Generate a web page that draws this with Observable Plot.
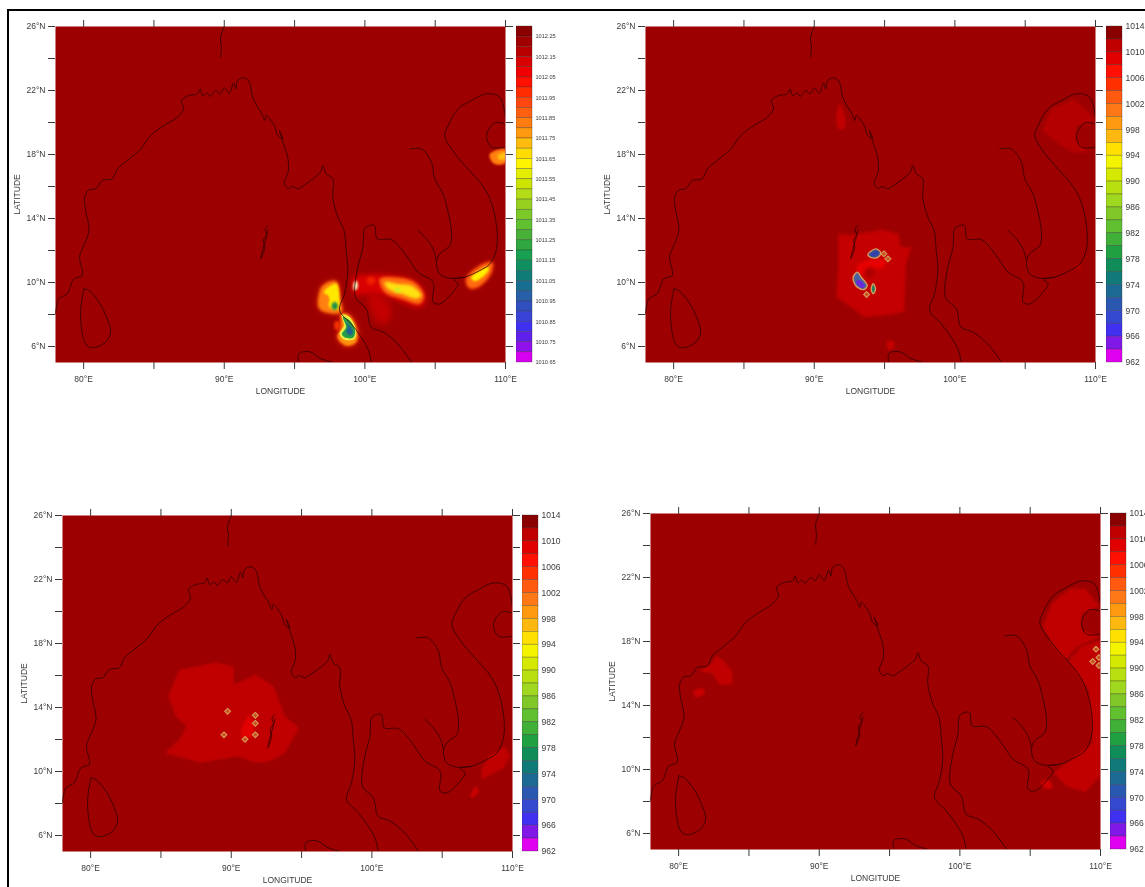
<!DOCTYPE html>
<html><head><meta charset="utf-8">
<script src="https://cdn.jsdelivr.net/npm/d3@7"></script>
<script src="https://cdn.jsdelivr.net/npm/@observablehq/plot@0.6"></script>
<style>
html,body{margin:0;padding:0;background:#fff;}
#page{position:relative;width:1145px;height:887px;overflow:hidden;background:#fff;}
#border{position:absolute;left:7px;top:9px;right:-5px;bottom:-5px;border-top:2px solid #000;border-left:2px solid #000;}
#page svg{position:absolute;max-width:none;}
</style></head><body><div id="page"><div id="border"></div></div>
<script>
// ---------- Map geometry (lon, lat) ----------
const coastWest = [[78,8.04],[78.24,8.98],[78.83,9.29],[79.31,10.23],[79.9,10.44],[79.71,11.58],[79.9,12.1],[80.38,13.25],[80.14,14.5],[80.07,15.33],[80.38,15.79],[80.85,15.85],[81.33,16.38],[82.04,16.48],[82.4,17.1],[83.11,17.63],[84.06,18.35],[84.77,19.19],[85.72,19.81],[86.67,20.33],[87.1,20.85],[86.96,21.38],[87.5,21.69],[88.1,21.79],[88.29,22.1],[88.46,21.69],[88.81,21.83],[89,21.63],[89.4,22],[89.71,21.79],[90,22.17],[90.36,21.83],[90.66,22.46],[90.83,22.1],[90.95,22.63],[91.42,22.79],[91.78,22.52],[92.02,21.58],[92.37,20.96],[92.61,20.65],[92.9,20.13],[92.97,20.44],[93.56,19.81],[93.8,19.19],[94.16,18.98],[93.92,19.5],[94.2,18.7],[94.51,17.83],[94.56,17],[94.27,16.17],[94.6,15.85],[94.75,16],[95.1,15.9],[95.23,15.85],[95.7,16.1],[96.3,16.48],[96.84,16.9],[97.01,17.31],[97.25,16.79],[97.72,16.48],[97.72,15.33],[98.08,14.08],[98.3,13.7],[98.55,13.15],[98.67,12],[98.79,10.75],[98.55,9.29],[98.2,8.25],[99.03,7.42],[99.74,6.58],[100.26,5.75],[100.45,5]];
const coastEast = [[103.34,5],[102.3,6.19],[101.26,6.92],[100.45,7.2],[100.1,8.35],[99.38,8.98],[99.27,9.5],[99.5,10.96],[99.86,12.2],[99.98,13.35],[100.3,13.55],[100.69,13.56],[100.88,12.73],[101.88,12.68],[102.59,12.1],[103.19,11.37],[103.78,10.64],[104.85,10.02],[104.85,8.77],[105.32,8.66],[106.16,9.29],[106.63,9.91],[106.3,10.2],[107.1,10.33],[108.18,10.75],[108.89,11.16],[109.36,12.1],[109.36,13.56],[108.89,15.23],[108.18,16.27],[107.11,17.31],[106.16,18.35],[105.68,19.18],[105.92,19.81],[106.63,20.85],[107.58,21.37],[108.65,21.79],[109.6,21.58],[110,20.23]];
const riverMekong = [[103.19,18.35],[104.02,18.35],[104.73,17.52],[104.97,16.48],[105.56,15.54],[105.92,14.39],[106.16,13.14],[106.04,12.31],[105.32,11.79],[105.09,11.27],[105.32,10.54],[106.04,10.27],[107.1,10.33]];
const riverTonle = [[103.78,13.25],[104.37,12.73],[104.85,12.1],[105.09,11.37]];
const riverNorth = [[90,26],[89.74,25.31],[89.8,24.7],[89.74,24.07]];
const hainan = [[110,19.91],[109.24,19.98],[108.65,19.19],[109,18.46],[110,18.46]];
const sriLanka = [[80.02,9.6],[80.38,9.5],[81.09,8.77],[81.68,7.73],[81.92,6.9],[81.56,6.27],[80.61,5.92],[80.14,6.17],[79.78,8.04],[80.02,9.6]];
const andaman = [[93.1,13.57],[92.9,13.3],[93,13],[92.78,12.63],[92.88,12.2],[92.6,11.49],[92.72,12],[92.95,12.7],[93.12,13.3]];
const sumatra = [[95.3,5],[95.3,5.56],[96.08,5.67],[96.86,5.25],[97.77,5]];
const coastLines = [coastWest, coastEast, riverMekong, riverTonle, riverNorth, hainan, sriLanka, andaman, sumatra];

// ---------- Panel 1 pressure blobs ----------
const p1West = [[96.7,9.08],[97.01,9.81],[97.96,10.08],[98.27,8.88],[98.36,8.15],[97.13,8.15],[96.7,8.46]];
const p1WestYellow = [[97.08,9.4],[97.96,9.92],[98.2,8.88],[98.13,8.35],[97.48,8.46],[97.4,9]];
const p1WestSpot = [[96.95,9.15],[97.3,9.25],[97.45,8.9],[97.1,8.7]];
const p1WestGreen = [[97.62,8.55],[97.85,8.8],[98.1,8.55],[97.85,8.27]];
const p1RedSpot = [[97.85,7.55],[98.2,7.55],[98.25,7.1],[97.9,7.05]];
const p1South = [[98.32,8.04],[98.91,7.94],[99.46,7],[99.38,6.27],[98.67,6.05],[98.05,6.58],[98.32,7.21]];
const p1SouthYellow = [[98.36,8],[98.91,7.83],[99.38,7],[99.27,6.48],[98.55,6.42],[98.2,6.79],[98.51,7.31]];
const p1SouthGreen = [[98.43,7.83],[98.91,7.62],[99.31,6.96],[99.15,6.54],[98.55,6.58],[98.36,6.79],[98.67,7.21]];
const p1SouthBlue = [[98.67,7.52],[99.15,6.96],[98.98,6.69],[98.67,6.9],[98.79,7.21]];
const p1Gulf = [[99.1,10.3],[100.5,10.5],[102,10.45],[103.6,10.1],[104.35,9.1],[104,8.45],[102.6,8.75],[101.3,9.2],[100.2,9.3],[99.3,9.2]];
const p1GulfOrange = [[101.05,10.23],[102.12,10.33],[103.54,10.02],[104.21,9.18],[103.9,8.66],[102.59,8.98],[101.41,9.39]];
const p1GulfYellow = [[101.41,10.02],[102.36,9.91],[103.3,9.81],[104.02,9.18],[103.66,8.98],[102.6,9.29],[101.64,9.6]];
const p1GulfCore = [[102.1,9.62],[102.55,9.62],[102.5,9.38],[102.15,9.42]];
const p1GulfFaint = [[100.22,9.29],[101.64,8.88],[101.76,7.63],[101.05,7.42],[100.34,8.46]];
const p1GulfSpot = [[100.2,10.3],[100.7,10.3],[100.7,9.95],[100.2,9.9]];
const p1GulfDot = [[99.2,9.95],[99.42,10.1],[99.48,9.65],[99.25,9.5]];
const p1Delta = [[107.2,10.2],[108.2,11.05],[109.05,11.25],[108.95,10.55],[108.1,9.75],[107.45,9.65]];
const p1DeltaYellow = [[107.55,10.3],[108.77,11],[108.77,10.7],[107.85,10.08]];
const p1Edge = [[108.9,18],[110,18.3],[110,17.5],[109.2,17.45]];
const p1EdgeYellow = [[109.45,17.95],[110,18.12],[110,17.72],[109.5,17.7]];

// ---------- Panel 2 ----------
const p2Patch = [[91.7,13.05],[92.6,12.95],[93.4,13.1],[94.83,13.3],[96,13.05],[96.14,12.22],[96.92,12.22],[96.53,11.18],[96.4,8.16],[95.09,7.95],[93.52,7.85],[92.74,8.37],[91.57,9.1],[91.7,10.97]];
const p2Arc = [[93,10.97],[93.79,11.38],[95.09,11.38],[94.83,10.87],[93.79,10.97],[93.26,10.34]];
const p2Dark = [[93.7,10.75],[94.1,10.85],[94.2,10.45],[93.8,10.35]];
const p2Low1 = [[93.81,11.73],[94.36,12.1],[94.71,11.9],[94.6,11.63],[94.12,11.54]];
const p2Low1In = [[94.02,11.72],[94.4,11.92],[94.52,11.8],[94.2,11.66]];
const p2Low2 = [[92.77,10.33],[93.06,10.65],[93.34,10.33],[93.77,9.81],[93.53,9.56],[93.06,9.71],[92.82,10.02]];
const p2Low2In = [[92.98,10.05],[93.2,10.15],[93.58,9.8],[93.42,9.66],[93.08,9.85]];
const p2Low3 = [[94.05,9.6],[94.19,9.92],[94.36,9.6],[94.19,9.29]];
const p2Marks = [[94.95,11.79],[95.24,11.48],[93.72,9.25]];
const p2North = [[91.57,20.53],[91.83,21.16],[92.22,20.12],[92.09,19.6],[91.7,19.6]];
const p2Viet = [[106.19,19.49],[106.84,20.84],[108.41,21.47],[109.19,20.95],[109.84,20.32],[110,20.01],[108.67,19.8],[108.54,18.87],[109.71,18.14],[108.41,18.14],[107.36,18.66]];
const p2South = [[95.09,6.19],[95.48,6.4],[95.74,6.08],[95.35,5.77]];
const p2Far = [[108.6,11.1],[108.95,11.2],[109,10.85],[108.7,10.75]];

// ---------- Panel 3 ----------
const p3Patch = [[85.52,14.7],[86.3,16.36],[88.89,16.82],[90.18,16.57],[90.18,15.43],[91.74,16.05],[93.03,15.32],[93.81,13.45],[94.84,12.72],[93.81,11.16],[92.77,10.64],[91.74,10.54],[90.44,10.95],[87.85,10.54],[85.26,11.16],[86.3,12],[86.81,12.83],[86.04,13.45]];
const p3Inner = [[90.7,12.41],[91.22,13.45],[91.61,13.03],[91.48,12.2],[90.83,12.1]];
const p3Marks = [[89.74,13.76],[91.71,13.51],[91.71,13.01],[91.71,12.29],[90.98,12.01],[89.48,12.29]];
const p3SouthEast = [[107.8,10.12],[108.32,10.95],[109.48,11.58],[109.82,10.95],[109.36,10.2],[107.8,9.5]];
const p3Small = [[107.02,8.46],[107.41,9.08],[107.59,8.77],[107.15,8.35]];

// ---------- Panel 4 ----------
const p4Viet = [[105.9,18.93],[106.55,20.39],[107.85,21.32],[108.9,21.32],[109.55,20.59],[109.95,20.18],[108.64,19.76],[108.64,18.72],[109.95,18.31],[108.38,17.68],[107.46,16.85],[106.55,17.89]];
const p4East = [[107.72,16.75],[108.64,17.68],[110,18.1],[110,9.58],[108.9,8.58],[107.59,8.95],[106.68,9.78],[109.42,11.65],[109.37,12.9],[109.16,14.98]];
const p4Marks = [[109.68,17.52],[109.45,16.75],[109.89,17],[109.89,16.5]];
const p4Small = [[105.76,9.16],[106.29,9.37],[106.6,8.85],[106.03,8.85]];
const p4West = [[82.64,17.1],[83.16,16.85],[83.82,16.13],[83.82,15.29],[82.9,15.29],[82.38,16.02],[81.46,16.13],[82.38,16.64]];
const p4West2 = [[81.07,14.88],[81.72,15.08],[81.86,14.77],[81.2,14.52]];

// ---------- Axes ----------
const lonTicks = [80,85,90,95,100,105,110];
const lonLabels = [80,90,100,110];
const latTicks = [6,8,10,12,14,16,18,20,22,24,26];
const latLabels = [6,10,14,18,22,26];

// ---------- Colour bars ----------
const levelsFine = [1012.25,1012.20,1012.15,1012.10,1012.05,1012.00,1011.95,1011.90,1011.85,1011.80,1011.75,1011.70,1011.65,1011.60,1011.55,1011.50,1011.45,1011.40,1011.35,1011.30,1011.25,1011.20,1011.15,1011.10,1011.05,1011.00,1010.95,1010.90,1010.85,1010.80,1010.75,1010.70,1010.65];
const colorsFine = ["#8a0000","#a00000","#b80000","#d80000","#f00000","#ff1000","#ff2c00","#ff4810","#ff6010","#ff7c10","#ff9a10","#ffbc10","#ffdc00","#fff400","#e4ee00","#cce400","#b4dc18","#98d020","#7cc828","#60c030","#48b038","#30a840","#18a050","#109060","#107c78","#186e90","#2860a8","#3050c0","#3844d8","#4030f0","#6020ec","#9010ec","#d800f0"];
const labelsFine = [1012.25,1012.15,1012.05,1011.95,1011.85,1011.75,1011.65,1011.55,1011.45,1011.35,1011.25,1011.15,1011.05,1010.95,1010.85,1010.75,1010.65];
const levelsWide = [1012,1010,1008,1006,1004,1002,1000,998,996,994,992,990,988,986,984,982,980,978,976,974,972,970,968,966,964,962];
const colorsWide = ["#8a0000","#c00000","#e00000","#ff1000","#ff3000","#ff5a10","#ff7818","#ff9a10","#ffb810","#ffe000","#f4f400","#d4e800","#b8e010","#a0d820","#80c828","#60c030","#40b038","#20a040","#108c58","#107a78","#1a6a94","#2a58b0","#3448d0","#4030f0","#8018e8","#e000f0"];
const labelsWide = [1014,1010,1006,1002,998,994,990,986,982,978,974,970,966,962];

const BASE = "#9c0000", INK = "#3a3a3a", TAN = "#d79a5c";
const page = document.getElementById("page");
const ptX = d => d[0], ptY = d => d[1];

function blob(points, fill, blur = 0.6, extra = {}) {
  return Plot.line(points, {x: ptX, y: ptY, fill, stroke: "none", curve: "catmull-rom-closed", clip: true, imageFilter: `blur(${blur}px)`, ...extra});
}
function patch(points, fill, blur = 0.8) {
  return blob(points, fill, blur, {curve: "linear-closed"});
}
function lowBlob(points, fill) {
  return blob(points, fill, 0.4, {stroke: TAN, strokeWidth: 1.4});
}
function marksAt(points) {
  return Plot.dot(points, {x: ptX, y: ptY, symbol: "diamond2", r: 2.6, fill: "#c8501c", stroke: TAN, strokeWidth: 1.1, clip: true});
}

function map(left, top, overlays) {
  const svg = Plot.plot({
    width: 545, height: 386,
    marginLeft: 55, marginRight: 40, marginTop: 10, marginBottom: 40,
    x: {domain: [78, 110]}, y: {domain: [5, 26]},
    style: {fontFamily: "'Liberation Sans',Arial,sans-serif", color: INK, filter: "blur(0.35px)", background: "transparent"},
    marks: [
      Plot.frame({fill: BASE, stroke: null}),
      ...overlays,
      ...coastLines.map(c => Plot.line(c, {x: ptX, y: ptY, stroke: "#300200", strokeWidth: 0.9, strokeOpacity: 0.9, curve: "catmull-rom", clip: true})),
      Plot.axisX({anchor: "bottom", ticks: lonTicks, tickSize: 7, tickPadding: 6, fontSize: 8.5, stroke: INK,
        tickFormat: d => lonLabels.includes(d) ? `${d}°E` : "", label: "LONGITUDE", labelAnchor: "center", labelArrow: "none", labelOffset: 31}),
      Plot.axisX({anchor: "top", ticks: lonTicks, tickSize: 7, stroke: INK, tickFormat: () => "", label: null}),
      Plot.axisY({anchor: "left", ticks: latTicks, tickSize: 7, tickPadding: 3, fontSize: 8.5, stroke: INK,
        tickFormat: d => latLabels.includes(d) ? `${d}°N` : "", label: "LATITUDE", labelAnchor: "center", labelArrow: "none", labelOffset: 42}),
      Plot.axisY({anchor: "right", ticks: latTicks, tickSize: 7, stroke: INK, tickFormat: () => "", label: null})
    ]
  });
  svg.style.left = (left - 55) + "px";
  svg.style.top = (top - 10) + "px";
  page.appendChild(svg);
}

function bar(left, top, levels, colors, labels, step, domain, fontSize, fmt) {
  const table = levels.map((v, i) => ({lo: v, hi: v + step, color: colors[i]}));
  const svg = Plot.plot({
    width: 70, height: 346,
    marginLeft: 0, marginRight: 54, marginTop: 5, marginBottom: 5,
    x: {domain: [0, 1], axis: null}, y: {domain},
    style: {fontFamily: "'Liberation Sans',Arial,sans-serif", color: INK, filter: "blur(0.3px)", background: "transparent"},
    marks: [
      Plot.rect(table, {x1: 0, x2: 1, y1: "lo", y2: "hi", fill: d => d.color, stroke: "#2a2a2a", strokeWidth: 0.6, strokeOpacity: 0.5}),
      Plot.axisY({anchor: "right", ticks: labels, tickSize: 0, tickPadding: 3, fontSize, tickFormat: fmt, label: null})
    ]
  });
  svg.style.left = left + "px";
  svg.style.top = (top - 5) + "px";
  page.appendChild(svg);
}

const panel1 = [
  blob(p1GulfFaint, "#c40000", 3),
  blob(p1Gulf, "#d80000", 2.5),
  blob(p1West, "#e02000", 3), blob(p1South, "#ff3000", 3), blob(p1Delta, "#e82000", 2.5), blob(p1Edge, "#ff4810", 1.8),
  blob(p1RedSpot, "#f03000", 1.2),
  blob(p1West, "#ff8010", 1.5), blob(p1GulfSpot, "#f02000", 1.5), blob(p1GulfOrange, "#ff6a10", 1.8), blob(p1Delta, "#ff6a10", 1.5), blob(p1Edge, "#ff8010", 1),
  blob(p1WestYellow, "#ffe800", 1.3), blob(p1WestSpot, "#ff8010", 1), blob(p1GulfYellow, "#ffe010", 1.5), blob(p1GulfCore, "#d8e820", 1), blob(p1DeltaYellow, "#fff000", 1.1), blob(p1EdgeYellow, "#ffc010", 0.8), blob(p1GulfDot, "#fff8c0", 0.8),
  blob(p1WestGreen, "#209048", 0.8),
  blob(p1South, "#ff9010", 1.2), blob(p1SouthYellow, "#eef040", 0.7), blob(p1SouthGreen, "#28a048", 0.7), blob(p1SouthBlue, "#205a98", 0.8)
];
const panel2 = [
  patch(p2Patch, "#c40000", 1.4), blob(p2North, "#c00000", 1.2), patch(p2Viet, "#b40000", 1.4), blob(p2South, "#c40000", 1), blob(p2Far, "#b00000", 1.2),
  blob(p2Arc, "#e80000", 1.5), blob(p2Dark, "#a80000", 1.5),
  lowBlob(p2Low1, "#384c98"), blob(p2Low1In, "#3040b0", 0.4),
  lowBlob(p2Low2, "#4a60a0"), blob(p2Low2In, "#6a28d8", 0.4),
  lowBlob(p2Low3, "#1a8060"),
  marksAt(p2Marks)
];
const panel3 = [
  patch(p3Patch, "#c00000", 1), patch(p3SouthEast, "#c00000", 1), blob(p3Small, "#cc0000", 0.8),
  blob(p3Inner, "#e40000", 0.8),
  marksAt(p3Marks)
];
const panel4 = [
  patch(p4Viet, "#c00000", 1), patch(p4East, "#c00000", 1), blob(p4Small, "#d00000", 0.8),
  patch(p4West, "#c00000", 1), blob(p4West2, "#c80000", 0.8),
  marksAt(p4Marks)
];

map(55, 26, panel1);
map(645, 26, panel2);
map(61.5, 515, panel3);
map(649.5, 513, panel4);

const fine = d => d.toFixed(2), wide = d => String(d);
bar(516, 26, levelsFine, colorsFine, labelsFine, 0.05, [1010.65, 1012.30], 5.6, fine);
bar(1106, 26, levelsWide, colorsWide, labelsWide, 2, [962, 1014], 8.5, wide);
bar(522, 515, levelsWide, colorsWide, labelsWide, 2, [962, 1014], 8.5, wide);
bar(1110, 513, levelsWide, colorsWide, labelsWide, 2, [962, 1014], 8.5, wide);
</script></body></html>
